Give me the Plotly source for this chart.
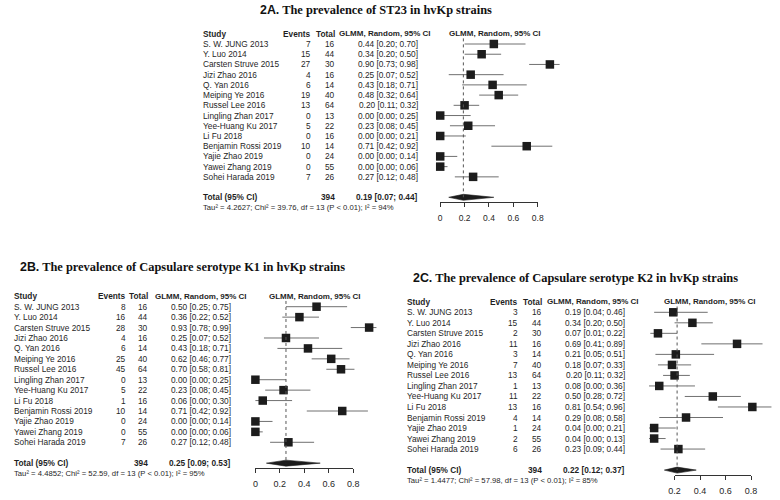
import plotly.graph_objects as go

# ---------------- data ----------------
studies = ["S. W. JUNG 2013", "Y. Luo 2014", "Carsten Struve 2015", "Jizi Zhao 2016",
           "Q. Yan 2016", "Meiping Ye 2016", "Russel Lee 2016", "Lingling Zhan 2017",
           "Yee-Huang Ku 2017", "Li Fu 2018", "Benjamin Rossi 2019", "Yajie Zhao 2019",
           "Yawei Zhang 2019", "Sohei Harada 2019"]
totals = [16, 44, 30, 16, 14, 40, 64, 13, 22, 16, 14, 24, 55, 26]

# 2A  ST23
st23_events = [7, 15, 27, 4, 6, 19, 13, 0, 5, 0, 10, 0, 0, 7]
st23_est = [0.44, 0.34, 0.90, 0.25, 0.43, 0.48, 0.20, 0.00, 0.23, 0.00, 0.71, 0.00, 0.00, 0.27]
st23_lo = [0.20, 0.20, 0.73, 0.07, 0.18, 0.32, 0.11, 0.00, 0.08, 0.00, 0.42, 0.00, 0.00, 0.12]
st23_hi = [0.70, 0.50, 0.98, 0.52, 0.71, 0.64, 0.32, 0.25, 0.45, 0.21, 0.92, 0.14, 0.06, 0.48]
st23_pooled = [0.19, 0.07, 0.44]
st23_stats = ["4.2627", "39.76", "13", "0.01", "94%"]

# 2B  K1
k1_events = [8, 16, 28, 4, 6, 25, 45, 0, 5, 1, 10, 0, 0, 7]
k1_est = [0.50, 0.36, 0.93, 0.25, 0.43, 0.62, 0.70, 0.00, 0.23, 0.06, 0.71, 0.00, 0.00, 0.27]
k1_lo = [0.25, 0.22, 0.78, 0.07, 0.18, 0.46, 0.58, 0.00, 0.08, 0.00, 0.42, 0.00, 0.00, 0.12]
k1_hi = [0.75, 0.52, 0.99, 0.52, 0.71, 0.77, 0.81, 0.25, 0.45, 0.30, 0.92, 0.14, 0.06, 0.48]
k1_pooled = [0.25, 0.09, 0.53]
k1_stats = ["4.4852", "52.59", "13", "0.01", "95%"]

# 2C  K2
k2_events = [3, 15, 2, 11, 3, 7, 13, 1, 11, 13, 4, 1, 2, 6]
k2_est = [0.19, 0.34, 0.07, 0.69, 0.21, 0.18, 0.20, 0.08, 0.50, 0.81, 0.29, 0.04, 0.04, 0.23]
k2_lo = [0.04, 0.20, 0.01, 0.41, 0.05, 0.07, 0.11, 0.00, 0.28, 0.54, 0.08, 0.00, 0.00, 0.09]
k2_hi = [0.46, 0.50, 0.22, 0.89, 0.51, 0.33, 0.32, 0.36, 0.72, 0.96, 0.58, 0.21, 0.13, 0.44]
k2_pooled = [0.22, 0.12, 0.37]
k2_stats = ["1.4477", "57.98", "13", "0.01", "85%"]

ticks_ab = [0, 0.2, 0.4, 0.6, 0.8]
ticks_c = [0.2, 0.4, 0.6, 0.8]

col_header = "GLMM, Random, 95% CI"

# ---------------- geometry (pixels) ----------------
W, H = 780, 500
def px(x): return x / W
def py(y): return 1 - y / H

SANS = "Liberation Sans, Arial, sans-serif"
SERIF = "Liberation Serif, Times New Roman, serif"
TXT = "#1f1f1f"

panels = [
    dict(label="2A.", title=" The prevalence of ST23 in hvKp strains", title_cx=376, title_y=10,
         events=st23_events, est=st23_est, lo=st23_lo, hi=st23_hi, pooled=st23_pooled, stats=st23_stats,
         ticks=ticks_ab, row0=44, sp=10.22, top=22, bot=235,
         name_x=199.5, ev_x=311, tot_x=335.5, ci_x=419.5, cihead_x=337.5, rhead_cx=497,
         zero=441, unit=123.75, data_l=425, data_r=575, tickfs=8.5),
    dict(label="2B.", title=" The prevalence of Capsulare serotype K1 in hvKp strains", title_cx=179, title_y=267,
         events=k1_events, est=k1_est, lo=k1_lo, hi=k1_hi, pooled=k1_pooled, stats=k1_stats,
         ticks=ticks_ab, row0=306.7, sp=10.43, top=285, bot=497,
         name_x=7.3, ev_x=122.5, tot_x=145.7, ci_x=230, cihead_x=150, rhead_cx=314,
         zero=253.3, unit=124.2, data_l=238, data_r=388, tickfs=9),
    dict(label="2C.", title=" The prevalence of Capsulare serotype K2 in hvKp strains", title_cx=578, title_y=277.5,
         events=k2_events, est=k2_est, lo=k2_lo, hi=k2_hi, pooled=k2_pooled, stats=k2_stats,
         ticks=ticks_c, row0=312.3, sp=10.52, top=290, bot=500,
         name_x=406.5, ev_x=520.7, tot_x=545, ci_x=629.5, cihead_x=548, rhead_cx=715,
         zero=653.1, unit=129.5, data_l=640, data_r=778, tickfs=9),
]

fig = go.Figure()
annotations = []
layout = {}

TOTAL_ROW = 15
STATS_ROW = 16
HEADER_ROW = -1
AXIS_ROW = 15.5

def ann(text, x_px, yref, row, anchor, size=8.3, bold=False, family=SANS):
    annotations.append(dict(
        text=f"<b>{text}</b>" if bold else text, x=px(x_px), xref="paper",
        y=row, yref=yref, xanchor=anchor, yanchor="middle", showarrow=False,
        borderpad=0, font=dict(family=family, size=size, color=TXT)))

for i, p in enumerate(panels, start=1):
    xd = "x" if i == 1 else f"x{i}"
    yd = "y" if i == 1 else f"y{i}"
    xs = f"x{i + 3}"
    row0, sp = p["row0"], p["sp"]
    rows = list(range(len(studies)))

    # axes
    layout["yaxis" if i == 1 else f"yaxis{i}"] = dict(
        domain=[py(p["bot"]), py(p["top"])],
        range=[(p["bot"] - row0) / sp, (p["top"] - row0) / sp],
        visible=False, fixedrange=True)
    layout["xaxis" if i == 1 else f"xaxis{i}"] = dict(
        domain=[px(p["data_l"]), px(p["data_r"])],
        range=[(p["data_l"] - p["zero"]) / p["unit"], (p["data_r"] - p["zero"]) / p["unit"]],
        visible=False, fixedrange=True, anchor=yd)
    t0, t1 = p["ticks"][0], p["ticks"][-1]
    layout[f"xaxis{i + 3}"] = dict(
        domain=[px(p["zero"] + t0 * p["unit"]), px(p["zero"] + t1 * p["unit"])],
        range=[t0, t1], anchor="free", position=py(row0 + AXIS_ROW * sp),
        showline=True, linecolor="#333", linewidth=1, ticks="outside", ticklen=4,
        tickcolor="#333", tickwidth=1, tickvals=p["ticks"], showgrid=False, zeroline=False,
        tickfont=dict(family=SANS, size=p["tickfs"], color=TXT), ticklabelstandoff=3,
        fixedrange=True)

    # CI lines
    cx, cy = [], []
    for r, lo, hi in zip(rows, p["lo"], p["hi"]):
        cx += [lo, hi, None]
        cy += [r, r, None]
    fig.add_trace(go.Scatter(x=cx, y=cy, mode="lines", xaxis=xd, yaxis=yd,
                             line=dict(color="#707070", width=1), hoverinfo="skip"))
    # reference dotted line at pooled estimate
    est_p, lo_p, hi_p = p["pooled"]
    fig.add_trace(go.Scatter(x=[est_p, est_p], y=[-0.55, TOTAL_ROW], mode="lines",
                             xaxis=xs, yaxis=yd, line=dict(color="#555", width=1, dash="dot"),
                             hoverinfo="skip"))
    # squares
    fig.add_trace(go.Scatter(x=p["est"], y=rows, mode="markers", xaxis=xd, yaxis=yd,
                             marker=dict(symbol="square", size=8.5, color="#1c1c1c",
                                         line=dict(width=0)), cliponaxis=False))
    # diamond
    h = 3.0 / sp
    fig.add_trace(go.Scatter(x=[lo_p, est_p, hi_p, est_p, lo_p],
                             y=[TOTAL_ROW, TOTAL_ROW - h, TOTAL_ROW, TOTAL_ROW + h, TOTAL_ROW],
                             mode="lines", fill="toself", fillcolor="#1c1c1c",
                             line=dict(color="#1c1c1c", width=0.6), xaxis=xd, yaxis=yd,
                             hoverinfo="skip", cliponaxis=False))

    # title
    annotations.append(dict(
        text=f"<b><span style='font-family:Liberation Sans, Arial'>{p['label']}</span>{p['title']}</b>",
        x=px(p["title_cx"]), y=py(p["title_y"]), xref="paper", yref="paper",
        xanchor="center", yanchor="middle", showarrow=False, borderpad=0,
        font=dict(family=SERIF, size=12.4, color="#111")))

    # header
    ann("Study", p["name_x"], yd, HEADER_ROW, "left", bold=True)
    ann("Events", p["ev_x"], yd, HEADER_ROW, "right", bold=True)
    ann("Total", p["tot_x"], yd, HEADER_ROW, "right", bold=True)
    ann(col_header, p["cihead_x"], yd, HEADER_ROW, "left", size=8.0, bold=True)
    ann(col_header, p["rhead_cx"], yd, HEADER_ROW, "center", size=8.0, bold=True)

    # study rows
    for r, name, ev, n, e, lo, hi in zip(rows, studies, p["events"], totals, p["est"], p["lo"], p["hi"]):
        ann(name, p["name_x"], yd, r, "left")
        ann(str(ev), p["ev_x"], yd, r, "right")
        ann(str(n), p["tot_x"], yd, r, "right")
        ann(f"{e:.2f} [{lo:.2f}; {hi:.2f}]", p["ci_x"], yd, r, "right")

    # total row
    ann("Total (95% CI)", p["name_x"], yd, TOTAL_ROW, "left", bold=True)
    ann(str(sum(totals)), p["tot_x"], yd, TOTAL_ROW, "right", bold=True)
    ann(f"{est_p:.2f} [{lo_p:.2f}; {hi_p:.2f}]", p["ci_x"], yd, TOTAL_ROW, "right", bold=True)

    tau, chi, df, pv, i2 = p["stats"]
    ann(f"Tau\u00b2 = {tau}; Chi\u00b2 = {chi}, df = {df} (P &lt; {pv}); I\u00b2 = {i2}",
        p["name_x"], yd, STATS_ROW, "left", size=7.7)

fig.update_layout(
    width=W, height=H, margin=dict(l=0, r=0, t=0, b=0),
    paper_bgcolor="white", plot_bgcolor="rgba(0,0,0,0)",
    showlegend=False, annotations=annotations, **layout)

fig.write_html("out.html", config={"displayModeBar": False},
               post_script="document.body.style.margin='0';document.body.style.padding='0';")
